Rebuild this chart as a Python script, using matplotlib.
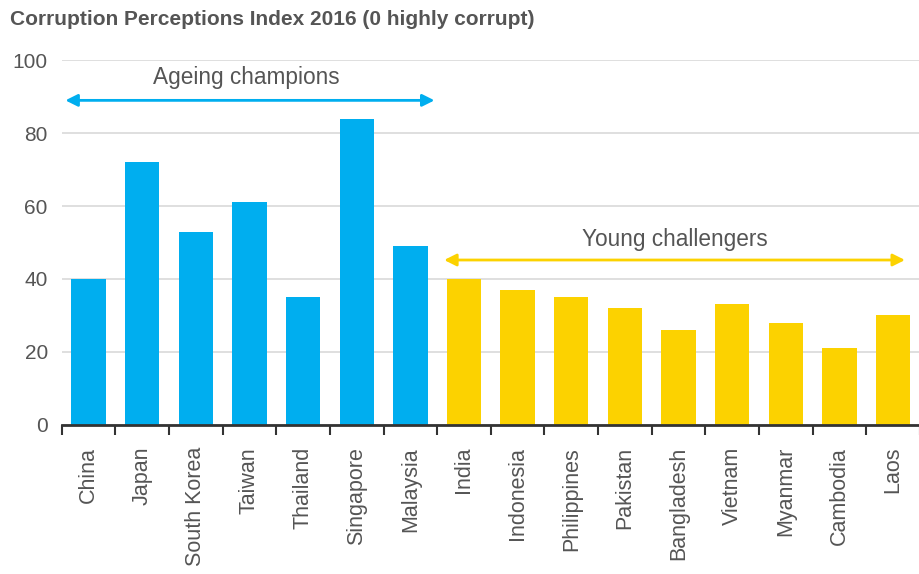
import matplotlib.pyplot as plt
import numpy as np

plt.rcParams["font.family"] = ["Liberation Sans", "DejaVu Sans"]

countries = ["China", "Japan", "South Korea", "Taiwan", "Thailand", "Singapore", "Malaysia",
             "India", "Indonesia", "Philippines", "Pakistan", "Bangladesh", "Vietnam",
             "Myanmar", "Cambodia", "Laos"]
scores = [40, 72, 53, 61, 35, 84, 49, 40, 37, 35, 32, 26, 33, 28, 21, 30]
groups = ["ageing"] * 7 + ["young"] * 9

BLUE = "#00aeef"
YELLOW = "#fcd200"
TEXT = "#555555"
group_colors = {"ageing": BLUE, "young": YELLOW}

fig = plt.figure(figsize=(9.2, 5.74), dpi=100)
ax = fig.add_axes([0.067, 0.26, 0.933, 0.635])

x = np.arange(len(countries))
ax.bar(x, scores, width=0.64, color=[group_colors[g] for g in groups], zorder=3)

ax.set_xlim(-0.5, len(countries) - 0.5)
ax.set_ylim(0, 100)
ax.set_yticks(np.arange(0, 101, 20))
ax.yaxis.grid(True, color="#d9d9d9", linewidth=1.2, zorder=0)
ax.set_axisbelow(True)

ax.set_xticks(x, countries, rotation=90, fontsize=15.5, color=TEXT)
ax.set_xticks(np.arange(-0.5, len(countries)), minor=True)
ax.tick_params(axis="x", which="major", length=0, pad=16)
ax.tick_params(axis="x", which="minor", length=7, width=1.5, color="#333333", direction="out")
ax.tick_params(axis="y", length=0, labelsize=15, labelcolor=TEXT, pad=10)

for side in ["top", "right", "left"]:
    ax.spines[side].set_visible(False)
ax.spines["bottom"].set_color("#333333")
ax.spines["bottom"].set_linewidth(2)
ax.spines["bottom"].set_zorder(4)

arrow = dict(arrowstyle="<|-|>", linewidth=2, mutation_scale=18, shrinkA=0, shrinkB=0)
ax.annotate("", xy=(-0.43, 89), xytext=(6.45, 89), arrowprops=dict(arrow, color=BLUE))
ax.text(2.95, 95.3, "Ageing champions", ha="center", va="center", fontsize=16.3, color=TEXT)
ax.annotate("", xy=(6.63, 45.2), xytext=(15.22, 45.2), arrowprops=dict(arrow, color=YELLOW))
ax.text(10.93, 50.7, "Young challengers", ha="center", va="center", fontsize=16.3, color=TEXT)

fig.text(0.011, 0.966, "Corruption Perceptions Index 2016 (0 highly corrupt)",
         fontsize=15, fontweight="bold", color=TEXT, ha="left", va="center")

fig.savefig("out.png", dpi=100)
